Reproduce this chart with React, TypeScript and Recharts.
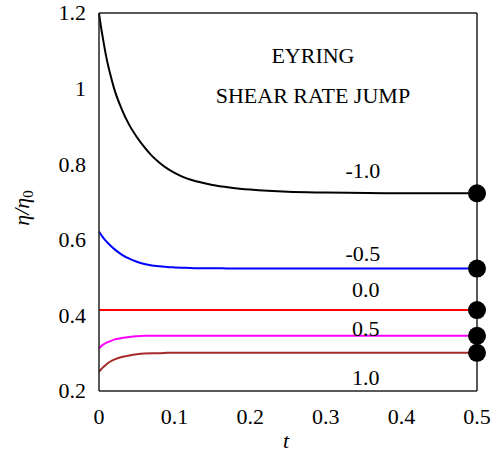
import React from 'react';
import {
  ComposedChart,
  Line,
  XAxis,
  YAxis,
  ReferenceDot,
} from 'recharts';

// time samples and eta/eta0 for each jump
const tValues = [0, 0.0025, 0.005, 0.01, 0.015, 0.02, 0.03, 0.04, 0.05, 0.06, 0.07, 0.08, 0.09, 0.1, 0.115, 0.13, 0.15, 0.175, 0.2, 0.25, 0.3, 0.4, 0.5];
const etaMinus10 = [1.2, 1.165, 1.135, 1.08, 1.037, 1.0, 0.946, 0.904, 0.872, 0.845, 0.822, 0.804, 0.789, 0.777, 0.763, 0.754, 0.745, 0.738, 0.733, 0.727, 0.725, 0.723, 0.723];
const etaMinus05 = [0.622, 0.614, 0.607, 0.595, 0.585, 0.576, 0.561, 0.55, 0.542, 0.536, 0.532, 0.53, 0.528, 0.527, 0.526, 0.525, 0.525, 0.524, 0.524, 0.524, 0.524, 0.524, 0.524];
const eta00 = [0.414, 0.414, 0.414, 0.414, 0.414, 0.414, 0.414, 0.414, 0.414, 0.414, 0.414, 0.414, 0.414, 0.414, 0.414, 0.414, 0.414, 0.414, 0.414, 0.414, 0.414, 0.414, 0.414];
const etaPlus05 = [0.313, 0.318, 0.322, 0.328, 0.332, 0.336, 0.34, 0.343, 0.345, 0.346, 0.346, 0.346, 0.346, 0.346, 0.346, 0.346, 0.346, 0.346, 0.346, 0.346, 0.346, 0.346, 0.346];
const etaPlus10 = [0.251, 0.257, 0.262, 0.271, 0.278, 0.283, 0.29, 0.294, 0.297, 0.299, 0.3, 0.3, 0.301, 0.301, 0.301, 0.301, 0.301, 0.301, 0.301, 0.301, 0.301, 0.301, 0.301];

const xTicks = [0, 0.1, 0.2, 0.3, 0.4, 0.5];
const yTicks = [0.2, 0.4, 0.6, 0.8, 1.0, 1.2];

const seriesLabels = ['-1.0', '-0.5', '0.0', '0.5', '1.0'];
const labelT = [0.349, 0.349, 0.353, 0.353, 0.353];
const labelEta = [0.785, 0.564, 0.469, 0.365, 0.237];

const titleLines = ['EYRING', 'SHEAR RATE JUMP'];
const titleT = [0.283, 0.283];
const titleEta = [1.089, 0.983];

const chartData = tValues.map((t, i) => ({
  t,
  m10: etaMinus10[i],
  m05: etaMinus05[i],
  z00: eta00[i],
  p05: etaPlus05[i],
  p10: etaPlus10[i],
}));

const FONT = "'Liberation Serif', 'Times New Roman', serif";
const txt = { fontFamily: FONT, fontSize: 22, fill: '#000' };
const AXIS = '#222';
const lastIndex = tValues.length - 1;

const endDot = (props: any) => {
  const { cx, cy, index } = props;
  if (index !== lastIndex) return <g key={`d${index}`} />;
  return <circle key={`d${index}`} cx={cx} cy={cy} r={9} fill="#000" />;
};

const textLabel = (text: string) => (props: any) => {
  const vb = props.viewBox || {};
  const cx = vb.x + (vb.width || 0) / 2;
  const cy = vb.y + (vb.height || 0) / 2;
  return (
    <text x={cx} y={cy} dy="0.35em" textAnchor="middle" style={txt}>
      {text}
    </text>
  );
};

const XTick = (p: any) => {
  const v = p.payload.value;
  return (
    <text x={p.x} y={p.y} dy="0.71em" textAnchor="middle" style={txt}>
      {v === 0 ? '0' : String(v)}
    </text>
  );
};

const YTick = (p: any) => {
  const v = p.payload.value;
  return (
    <text x={p.x} y={p.y} dy="0.34em" textAnchor="end" style={txt}>
      {v === 1 ? '1' : v.toFixed(1)}
    </text>
  );
};

const series = [
  { key: 'm10', color: '#000000' },
  { key: 'm05', color: '#0000ff' },
  { key: 'z00', color: '#ff0000' },
  { key: 'p05', color: '#ff00ff' },
  { key: 'p10', color: '#a52a2a' },
];

export default function App() {
  return (
    <div style={{ position: 'absolute', left: 0, top: 0, width: 497, height: 453, background: '#fff' }}>
      <ComposedChart
        width={497}
        height={453}
        data={chartData}
        margin={{ top: 13, right: 20, left: 39, bottom: 22 }}
      >
        <XAxis
          dataKey="t"
          type="number"
          domain={[0, 0.5]}
          ticks={xTicks}
          height={40}
          tickLine={false}
          tickSize={0}
          tickMargin={17}
          axisLine={{ stroke: AXIS, strokeWidth: 1.5 }}
          tick={XTick}
        />
        <XAxis
          xAxisId="bm"
          type="number"
          domain={[0, 0.5]}
          ticks={xTicks}
          mirror
          tick={false}
          tickSize={6}
          axisLine={false}
          tickLine={{ stroke: AXIS, strokeWidth: 1.2 }}
          allowDataOverflow
        />
        <XAxis
          xAxisId="top"
          orientation="top"
          type="number"
          domain={[0, 0.5]}
          ticks={xTicks}
          mirror
          tick={false}
          tickSize={6}
          axisLine={{ stroke: AXIS, strokeWidth: 1.5 }}
          tickLine={{ stroke: AXIS, strokeWidth: 1.2 }}
          allowDataOverflow
        />
        <YAxis
          type="number"
          domain={[0.2, 1.2]}
          ticks={yTicks}
          width={60}
          tickLine={false}
          tickSize={0}
          tickMargin={13}
          axisLine={{ stroke: AXIS, strokeWidth: 1.5 }}
          tick={YTick}
          label={{
            content: () => (
              <text
                transform="translate(29,208) rotate(-90)"
                textAnchor="middle"
                style={{ ...txt, fontStyle: 'italic' }}
              >
                η/η<tspan style={{ fontSize: 15, fontStyle: 'normal' }} dy={4}>0</tspan>
              </text>
            ),
          }}
        />
        <YAxis
          yAxisId="lm"
          type="number"
          domain={[0.2, 1.2]}
          ticks={yTicks}
          mirror
          tick={false}
          tickSize={6}
          axisLine={false}
          tickLine={{ stroke: AXIS, strokeWidth: 1.2 }}
          allowDataOverflow
        />
        <YAxis
          yAxisId="right"
          orientation="right"
          type="number"
          domain={[0.2, 1.2]}
          ticks={yTicks}
          mirror
          tick={false}
          tickSize={6}
          axisLine={{ stroke: AXIS, strokeWidth: 1.5 }}
          tickLine={{ stroke: AXIS, strokeWidth: 1.2 }}
          allowDataOverflow
        />

        {series.map((s) => (
          <Line
            key={s.key}
            type="monotone"
            dataKey={s.key}
            stroke={s.color}
            strokeWidth={2}
            dot={endDot}
            activeDot={false}
            isAnimationActive={false}
          />
        ))}

        {seriesLabels.map((lab, i) => (
          <ReferenceDot
            key={lab}
            x={labelT[i]}
            y={labelEta[i]}
            r={0}
            fill="none"
            stroke="none"
            label={{ content: textLabel(lab) }}
          />
        ))}
        {titleLines.map((lab, i) => (
          <ReferenceDot
            key={lab}
            x={titleT[i]}
            y={titleEta[i]}
            r={0}
            fill="none"
            stroke="none"
            label={{ content: textLabel(lab) }}
          />
        ))}
      </ComposedChart>
      <svg width={497} height={453} style={{ position: 'absolute', left: 0, top: 0, pointerEvents: 'none' }}>
        <text x={286} y={448} textAnchor="middle" style={{ ...txt, fontStyle: 'italic' }}>
          t
        </text>
      </svg>
    </div>
  );
}
